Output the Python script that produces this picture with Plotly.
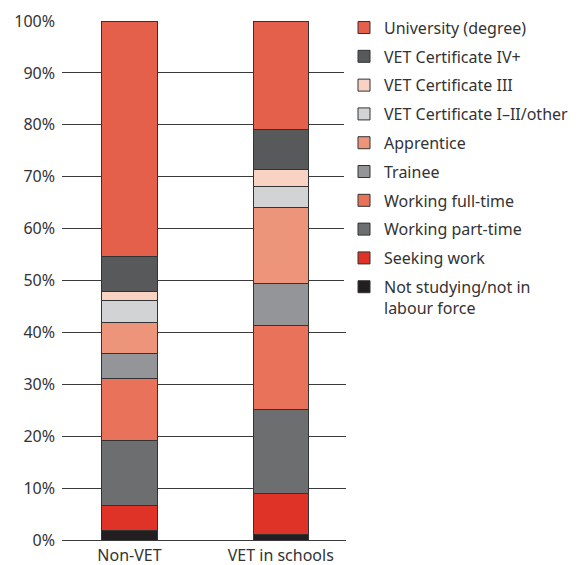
import plotly.graph_objects as go

categories = ["Non-VET", "VET in schools"]
series_names = [
    "Not studying/not in<br>labour force",
    "Seeking work",
    "Working part-time",
    "Working full-time",
    "Trainee",
    "Apprentice",
    "VET Certificate I\u2013II/other",
    "VET Certificate III",
    "VET Certificate IV+",
    "University (degree)",
]
not_studying = [1.9, 1.15]
seeking_work = [4.8, 7.8]
working_part_time = [12.4, 16.1]
working_full_time = [12.0, 16.2]
trainee = [4.9, 8.1]
apprentice = [5.9, 14.7]
vet_cert_1_2 = [4.2, 4.0]
vet_cert_3 = [1.75, 3.3]
vet_cert_4 = [6.8, 7.8]
university = [45.35, 20.85]
tick_vals = [0, 10, 20, 30, 40, 50, 60, 70, 80, 90, 100]
tick_text = [f"{v}%" for v in tick_vals]

series_values = [not_studying, seeking_work, working_part_time, working_full_time,
                 trainee, apprentice, vet_cert_1_2, vet_cert_3, vet_cert_4, university]
colors = ["#231F20", "#DE3326", "#6D6E70", "#E8735A", "#939598",
          "#EC957B", "#D1D3D4", "#F8D3C3", "#58595B", "#E5604A"]

xpos = [0, 1]
n = len(series_names)
fig = go.Figure()
for i, (name, vals, col) in enumerate(zip(series_names, series_values, colors)):
    fig.add_trace(go.Bar(
        x=xpos, y=vals, name=name, marker=dict(color=col, line=dict(color="#333333", width=1)),
        width=0.364, legendgroup=f"g{i}", legendrank=n - i,
    ))

font_family = "Noto Sans, Open Sans, sans-serif"
fig.update_layout(
    width=571, height=557,
    barmode="stack",
    plot_bgcolor="white", paper_bgcolor="white",
    margin=dict(l=54, r=233, t=13, b=25, autoexpand=False),
    font=dict(family=font_family, size=16, color="#333333"),
    legend=dict(
        x=0.993, xanchor="left", y=1.02, yanchor="top",
        traceorder="grouped", tracegroupgap=5, maxheight=500,
        font=dict(size=16, color="#333333"),
        valign="top", itemclick=False,
    ),
    xaxis=dict(
        tickmode="array", tickvals=xpos, ticktext=categories,
        range=[-0.446, 1.431], showgrid=False, zeroline=False, showline=False,
        ticks="", tickfont=dict(size=16), automargin=False, ticklabelstandoff=4,
    ),
    yaxis=dict(
        range=[0, 100], tickmode="array", tickvals=tick_vals, ticktext=tick_text,
        showgrid=True, gridcolor="#3a3a3a", gridwidth=1,
        zeroline=True, zerolinecolor="#3a3a3a", zerolinewidth=1,
        showline=False, ticks="", ticklabelstandoff=6, tickfont=dict(size=16),
        automargin=False,
    ),
)
fig.write_html("out.html")
